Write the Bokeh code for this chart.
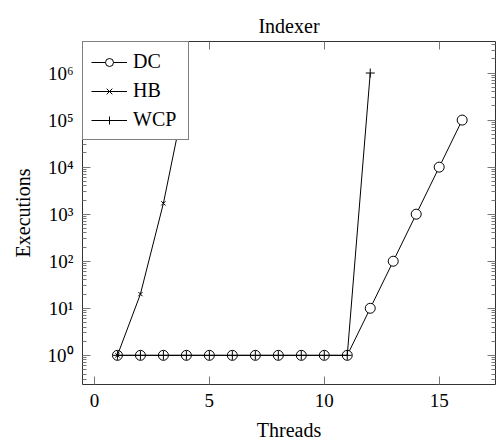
from bokeh.plotting import figure
from bokeh.models import LogAxis, LinearAxis, FixedTicker, Range1d, Legend
from bokeh.embed import file_html
from bokeh.resources import INLINE

threads = list(range(1, 17))
dc_vals = [1, 1, 1, 1, 1, 1, 1, 1, 1, 1, 1, 10, 100, 1000, 10000, 100000]
hb_threads = [1, 2, 3, 4]
hb_vals = [1, 20, 1700, 420000]
wcp_threads = list(range(1, 13))
wcp_vals = [1, 1, 1, 1, 1, 1, 1, 1, 1, 1, 1, 1000000]

x_ticks = [0, 5, 10, 15]
y_ticks = [1, 10, 100, 1000, 10000, 100000, 1000000]
y_tick_labels = ["10⁰", "10¹", "10²", "10³", "10⁴", "10⁵", "10⁶"]
y_minor = [m * d for d in [0.1, 1, 10, 100, 1000, 10000, 100000, 1000000] for m in range(2, 10)]

SERIF = "Liberation Serif"
TICK = "#777777"

p = figure(width=496, height=443, output_backend="svg", toolbar_location=None,
           y_axis_type="log",
           x_range=Range1d(-0.52, 17.45), y_range=Range1d(10 ** -0.62, 10 ** 6.67),
           min_border_left=82, min_border_right=1, min_border_top=41, min_border_bottom=58,
           title="Indexer")
p.title.align = "center"
p.title.text_font = SERIF
p.title.text_font_size = "20px"
p.title.text_font_style = "normal"
p.title.text_color = "black"
p.title.standoff = 10
p.grid.visible = False
p.outline_line_color = "#333333"
p.outline_line_width = 1
p.background_fill_color = "white"
p.border_fill_color = "white"

xa = p.xaxis[0]
xa.ticker = FixedTicker(ticks=x_ticks)
xa.axis_label = "Threads"
ya = p.yaxis[0]
ya.ticker = FixedTicker(ticks=y_ticks, minor_ticks=y_minor)
ya.major_label_overrides = {t: l for t, l in zip(y_ticks, y_tick_labels)}
ya.axis_label = "Executions"

for ax in (xa, ya):
    ax.axis_line_color = None
    ax.major_tick_in = 8
    ax.major_tick_out = 0
    ax.minor_tick_in = 4
    ax.minor_tick_out = 0
    ax.major_tick_line_color = TICK
    ax.minor_tick_line_color = TICK
    ax.major_label_text_font = SERIF
    ax.major_label_text_font_size = "19px"
    ax.major_label_text_color = "black"
    ax.axis_label_text_font = SERIF
    ax.axis_label_text_font_size = "20px"
    ax.axis_label_text_font_style = "normal"
    ax.axis_label_text_color = "black"
xa.major_label_standoff = 9
xa.axis_label_standoff = 9
ya.major_label_standoff = 9
ya.axis_label_standoff = 11
xa.minor_tick_line_color = None

top = LinearAxis(ticker=FixedTicker(ticks=x_ticks))
top.major_label_overrides = {t: "" for t in x_ticks}
right = LogAxis(ticker=FixedTicker(ticks=y_ticks, minor_ticks=y_minor))
right.major_label_overrides = {t: "" for t in y_ticks}
for ax in (top, right):
    ax.axis_line_color = None
    ax.major_tick_in = 8
    ax.major_tick_out = 0
    ax.minor_tick_in = 4
    ax.minor_tick_out = 0
    ax.major_tick_line_color = TICK
    ax.minor_tick_line_color = TICK
    ax.major_label_standoff = 0
top.major_label_standoff = 12
top.minor_tick_line_color = None
p.add_layout(top, "above")
p.add_layout(right, "right")

r1 = p.line(threads, dc_vals, line_color="black", line_width=1)
r2 = p.scatter(threads, dc_vals, marker="circle", size=10, line_color="black", fill_color="white", line_width=1)
r3 = p.line(hb_threads, hb_vals, line_color="black", line_width=1)
r4 = p.scatter(hb_threads, hb_vals, marker="x", size=6, line_color="black", line_width=1)
r5 = p.line(wcp_threads, wcp_vals, line_color="black", line_width=1)
r6 = p.scatter(wcp_threads, wcp_vals, marker="cross", size=9, line_color="black", line_width=1)

legend = Legend(items=[("DC", [r1, r2]), ("HB", [r3, r4]), ("WCP", [r5, r6])],
                location="top_left", margin=0, padding=8, spacing=6,
                glyph_width=36, glyph_height=20, label_height=20, label_width=47,
                label_standoff=6, label_text_font=SERIF, label_text_font_size="20px",
                label_text_color="black",
                border_line_color="black", border_line_width=1,
                background_fill_alpha=1.0)
p.add_layout(legend)

open("out.html", "w").write(file_html(p, INLINE))
